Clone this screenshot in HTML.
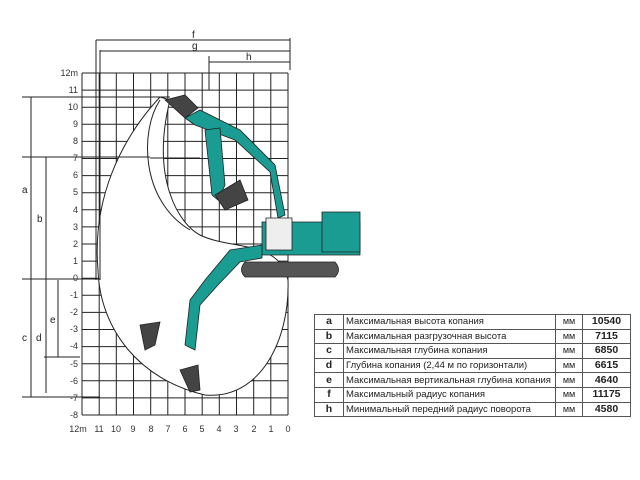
<!DOCTYPE html>
<html><head><meta charset="utf-8"><style>
body{margin:0;background:#fff;width:640px;height:480px;overflow:hidden;font-family:"Liberation Sans","DejaVu Sans",sans-serif}
svg{position:absolute;left:0;top:0}
table{position:absolute;left:314px;top:314px;border-collapse:collapse;table-layout:fixed;width:316px;font-size:9.5px;color:#222}
td{border:1px solid #555;height:13.6px;padding:0 2px;white-space:nowrap;overflow:hidden;line-height:13px}
td.k{text-align:center;font-weight:bold;font-size:10.5px}
td.u{text-align:center;font-size:9px}
td.v{text-align:center;font-weight:bold;font-size:10.5px}
</style></head><body>
<svg width="640" height="480" viewBox="0 0 640 480" font-family="Liberation Sans, sans-serif">
<g stroke="#222" stroke-width="1">
<path d="M82 73V415M99.2 73V415M116.3 73V415M133.5 73V415M150.7 73V415M167.8 73V415M185 73V415M202.2 73V415M219.3 73V415M236.5 73V415M253.7 73V415M270.8 73V415M288 73V415"/>
<path d="M82 73H288M82 90.1H288M82 107.2H288M82 124.3H288M82 141.4H288M82 158.5H288M82 175.6H288M82 192.7H288M82 209.8H288M82 226.9H288M82 244H288M82 261.1H288M82 278.2H288M82 295.3H288M82 312.4H288M82 329.5H288M82 346.6H288M82 363.7H288M82 380.8H288M82 397.9H288M82 415H288"/>
</g>
<path d="M160 97 C120 140 92 200 98 270 C100 330 140 380 205 395 C260 400 290 340 288 280 C280 240 230 250 200 235 C180 225 150 180 170 100 Z" fill="#fff" stroke="#222" stroke-width="1"/>
<path d="M160 100 C140 130 140 200 190 230" fill="none" stroke="#222"/>
<path d="M150 158 H200" stroke="#222"/>
<g stroke="#222" stroke-width="1" fill="none">
<path d="M96 40V280M100 50V280M209 56V90M290 38V70"/>
<path d="M96 40H290M100 51H290M209 62H290"/>
<path d="M22 97H170M22 157H150M22 279H100M22 397H100M44 357H80"/>
<path d="M31 97V397M46 157V280M46 280V393M58 280V357"/>
</g>
<g fill="#222" font-size="10">
<text x="192" y="38">f</text><text x="192" y="49">g</text><text x="246" y="60">h</text>
<text x="22" y="193">a</text><text x="37" y="222">b</text><text x="22" y="341">c</text><text x="36" y="341">d</text><text x="50" y="323">e</text>
</g>
<g fill="#333" font-size="9" text-anchor="end">
<text x="78" y="76">12m</text><text x="78" y="93">11</text><text x="78" y="110">10</text><text x="78" y="127">9</text><text x="78" y="144">8</text><text x="78" y="161">7</text><text x="78" y="178">6</text><text x="78" y="195">5</text><text x="78" y="213">4</text><text x="78" y="230">3</text><text x="78" y="247">2</text><text x="78" y="264">1</text><text x="78" y="281">0</text><text x="78" y="298">-1</text><text x="78" y="315">-2</text><text x="78" y="332">-3</text><text x="78" y="349">-4</text><text x="78" y="367">-5</text><text x="78" y="384">-6</text><text x="78" y="401">-7</text><text x="78" y="418">-8</text>
</g>
<g fill="#333" font-size="9" text-anchor="middle">
<text x="78" y="432">12m</text><text x="99" y="432">11</text><text x="116" y="432">10</text><text x="133" y="432">9</text><text x="151" y="432">8</text><text x="168" y="432">7</text><text x="185" y="432">6</text><text x="202" y="432">5</text><text x="219" y="432">4</text><text x="236" y="432">3</text><text x="254" y="432">2</text><text x="271" y="432">1</text><text x="288" y="432">0</text>
</g>
<g stroke="#222" stroke-width="0.8">
<path d="M165 100 L185 95 L198 108 L185 118 Z" fill="#444"/>
<path d="M185 118 L200 110 L240 130 L275 165 L285 215 L278 218 L270 172 L235 140 L195 125 Z" fill="#1a9c93"/>
<path d="M205 130 L220 128 L225 185 L218 200 L212 195 Z" fill="#1a9c93"/>
<path d="M215 195 L240 180 L248 200 L225 210 Z" fill="#444"/>
<path d="M262 222 H360 V255 H262 Z" fill="#1a9c93"/>
<path d="M266 218 H292 V250 H266 Z" fill="#eee"/>
<path d="M322 212 H360 V252 H322 Z" fill="#1a9c93"/>
<path d="M245 262 H335 Q342 270 335 277 H245 Q238 270 245 262 Z" fill="#555"/>
<path d="M262 245 L230 250 L205 280 L190 300 L185 345 L195 350 L200 305 L218 285 L240 262 L262 258 Z" fill="#1a9c93"/>
<path d="M180 370 L198 365 L200 390 L190 392 Z" fill="#444"/>
<path d="M140 325 L160 322 L155 345 L145 350 Z" fill="#444"/>
</g>
</svg>
<table>
<colgroup><col style="width:29px"><col style="width:212px"><col style="width:27px"><col style="width:48px"></colgroup>
<tr><td class="k">a</td><td>Максимальная высота копания</td><td class="u">мм</td><td class="v">10540</td></tr>
<tr><td class="k">b</td><td>Максимальная разгрузочная высота</td><td class="u">мм</td><td class="v">7115</td></tr>
<tr><td class="k">c</td><td>Максимальная глубина копания</td><td class="u">мм</td><td class="v">6850</td></tr>
<tr><td class="k">d</td><td>Глубина копания (2,44 м по горизонтали)</td><td class="u">мм</td><td class="v">6615</td></tr>
<tr><td class="k">e</td><td>Максимальная вертикальная глубина копания</td><td class="u">мм</td><td class="v">4640</td></tr>
<tr><td class="k">f</td><td>Максимальный радиус копания</td><td class="u">мм</td><td class="v">11175</td></tr>
<tr><td class="k">h</td><td>Минимальный передний радиус поворота</td><td class="u">мм</td><td class="v">4580</td></tr>
</table>
</body></html>
